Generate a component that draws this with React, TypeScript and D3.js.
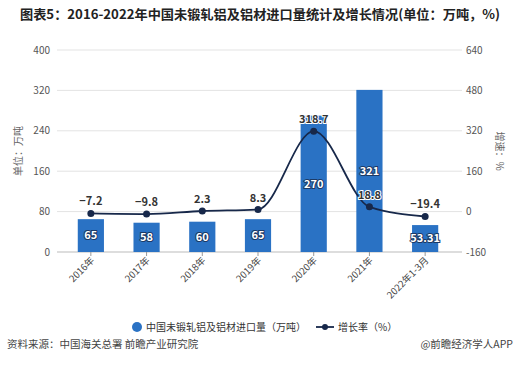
import React from "react";
import * as d3 from "d3";

const categories = ["2016年", "2017年", "2018年", "2019年", "2020年", "2021年", "2022年1-3月"];
const importVolume = [65, 58, 60, 65, 270, 321, 53.31];
const volumeLabels = ["65", "58", "60", "65", "270", "321", "53.31"];
const growthRate = [-7.2, -9.8, 2.3, 8.3, 318.7, 18.8, -19.4];
const leftTicks = [0, 80, 160, 240, 320, 400];
const rightTicks = [-160, 0, 160, 320, 480, 640];

const W = 520, H = 371;
const top = 50, bottom = 252, gridL = 57, gridR = 462;
const FONT = "'Noto Sans CJK SC', 'Noto Sans', sans-serif";
const BAR = "#2a72c4";
const LINE = "#17284a";

export default function App() {
  const x = d3.scaleBand<string>().domain(categories).range([63, 453]).paddingInner(0).paddingOuter(0);
  const yL = d3.scaleLinear().domain([0, 400]).range([bottom, top]);
  const yR = d3.scaleLinear().domain([-160, 640]).range([bottom, top]);
  const bw = x.bandwidth() * 0.47;
  const cx = (c: string) => (x(c) as number) + x.bandwidth() / 2;
  const line = d3.line<number>().x((_, i) => cx(categories[i])).y((d) => yR(d)).curve(d3.curveMonotoneX);

  return (
    <svg width={W} height={H} style={{ position: "absolute", left: 0, top: 0, background: "#fff" }} fontFamily={FONT}>
      <text x={20} y={19} fontSize={13} fontWeight="bold" fill="#222" textLength={480} lengthAdjust="spacingAndGlyphs">
        图表5：2016-2022年中国未锻轧铝及铝材进口量统计及增长情况(单位：万吨，%)
      </text>
      {leftTicks.map((t) => (
        <g key={t}>
          <line x1={gridL} x2={gridR} y1={yL(t)} y2={yL(t)} stroke={t === 0 ? "#bbb" : "#e3e3e3"} />
          <text x={50} y={yL(t)} dy="0.35em" textAnchor="end" fontSize={10} fill="#555">{t}</text>
        </g>
      ))}
      {rightTicks.map((t) => (
        <text key={t} x={466} y={yR(t)} dy="0.35em" fontSize={10} fill="#555">{t}</text>
      ))}
      <text transform={`translate(22,151) rotate(-90)`} textAnchor="middle" fontSize={10} fill="#666">单位：万吨</text>
      <text transform={`translate(496,151) rotate(90)`} textAnchor="middle" fontSize={10} fill="#666">增速：%</text>
      {categories.map((c, i) => (
        <g key={c}>
          <rect x={cx(c) - bw / 2} y={yL(importVolume[i])} width={bw} height={bottom - yL(importVolume[i])} fill={BAR} />
          <line x1={cx(c)} x2={cx(c)} y1={bottom} y2={bottom + 4} stroke="#999" />
          <text transform={`translate(${cx(c) + 4},${bottom + 9}) rotate(-45)`} textAnchor="end" fontSize={9.5} fill="#444">{c}</text>
          <text x={cx(c)} y={(yL(importVolume[i]) + bottom) / 2} dy="0.35em" textAnchor="middle" fontSize={11} fontWeight="bold" fill="#fff" stroke="#1c3a66" strokeWidth={2} paintOrder="stroke">{volumeLabels[i]}</text>
        </g>
      ))}
      <path d={line(growthRate) || ""} fill="none" stroke={LINE} strokeWidth={1.8} />
      {categories.map((c, i) => (
        <g key={c + "p"}>
          <circle cx={cx(c)} cy={yR(growthRate[i])} r={3.5} fill={LINE} />
          <text x={cx(c)} y={yR(growthRate[i]) - 8} textAnchor="middle" fontSize={11} fontWeight="bold" fill="#333" stroke="#fff" strokeWidth={2} paintOrder="stroke">{growthRate[i].toFixed(1).replace("-", "−")}</text>
        </g>
      ))}
      <circle cx={137} cy={327} r={5} fill={BAR} />
      <text x={146} y={327} dy="0.35em" fontSize={10} fill="#333">中国未锻轧铝及铝材进口量（万吨）</text>
      <line x1={316} x2={334} y1={327} y2={327} stroke={LINE} strokeWidth={1.8} />
      <circle cx={325} cy={327} r={3} fill={LINE} />
      <text x={338} y={327} dy="0.35em" fontSize={10} fill="#333">增长率（%）</text>
      <text x={7} y={348} fontSize={10.5} fill="#444">资料来源：中国海关总署 前瞻产业研究院</text>
      <text x={513} y={348} textAnchor="end" fontSize={10.5} fill="#444">@前瞻经济学人APP</text>
    </svg>
  );
}
